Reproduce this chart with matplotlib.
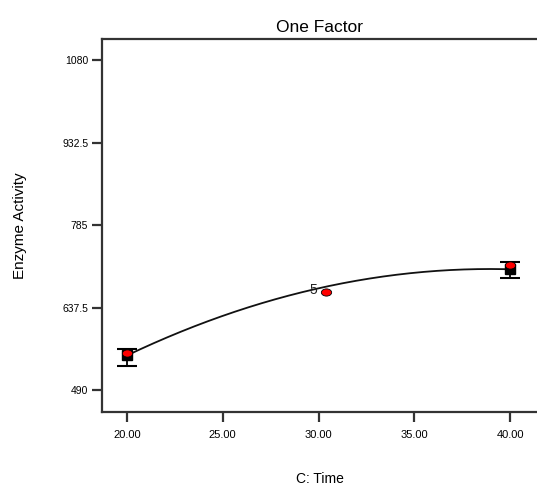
import matplotlib
matplotlib.use("Agg")
import matplotlib.pyplot as plt
from matplotlib.markers import MarkerStyle
from matplotlib.transforms import Affine2D
import numpy as np

plt.rcParams['font.family'] = ['Liberation Sans', 'DejaVu Sans']

# Data
design_x = [20.0, 30.0, 40.0]
predicted = [552.0, 672.0, 706.0]       # model prediction at design points
ci_low = [533.0, None, 690.0]
ci_high = [563.0, None, 719.0]
actual_x = [20.0, 30.4, 40.0]
actual_y = [556.0, 665.0, 713.0]
replicates = ["", "5", ""]
yticks = [490, 637.5, 785, 932.5, 1080]
xticks = [20, 25, 30, 35, 40]

fig = plt.figure(figsize=(5.37, 4.87), dpi=100)
ax = fig.add_axes([0.19, 0.154, 0.81, 0.766])

# fitted quadratic curve
coef = np.polyfit(design_x, predicted, 2)
xs = np.linspace(min(design_x), max(design_x), 200)
ax.plot(xs, np.polyval(coef, xs), color='#111111', lw=1.3, zorder=2)

# error bars and squares at end points
for x, p, lo, hi in zip(design_x, predicted, ci_low, ci_high):
    if lo is None:
        continue
    ax.errorbar([x], [p], yerr=[[p - lo], [hi - p]], fmt='s', color='black',
                markersize=7, capsize=7, capthick=1.5, elinewidth=1.3, zorder=3)

ellipse = MarkerStyle('o', transform=Affine2D().scale(1.0, 0.7))
ax.scatter(actual_x, actual_y, s=55, color='red', edgecolor='black',
           linewidth=0.6, marker=ellipse, zorder=4)
for x, y, lab in zip(actual_x, actual_y, replicates):
    if lab:
        ax.text(x - 0.45, y + 4, lab, ha='right', va='center', fontsize=10,
                color='#222222', zorder=5)

ax.set_xlim(18.7, 41.4)
ax.set_ylim(451, 1117.5)
ax.set_xticks(xticks)
ax.set_xticklabels([f"{v:.2f}" for v in xticks])
ax.set_yticks(yticks)
ax.set_yticklabels(["490", "637.5", "785", "932.5", "1080"])

ax.spines['right'].set_visible(False)
for s in ['left', 'top', 'bottom']:
    ax.spines[s].set_linewidth(1.6)
    ax.spines[s].set_color('#333333')

ax.tick_params(axis='both', direction='out', length=7, width=1.6,
               color='#333333', labelsize=7.5, pad=3)
ax.tick_params(axis='x', labelsize=8, pad=6)

ax.set_title("One Factor", fontsize=12.5, pad=5)
ax.set_xlabel("C: Time", fontsize=10, labelpad=23)
ax.set_ylabel("Enzyme Activity", fontsize=11, labelpad=25)

fig.savefig("out.png", dpi=100)
